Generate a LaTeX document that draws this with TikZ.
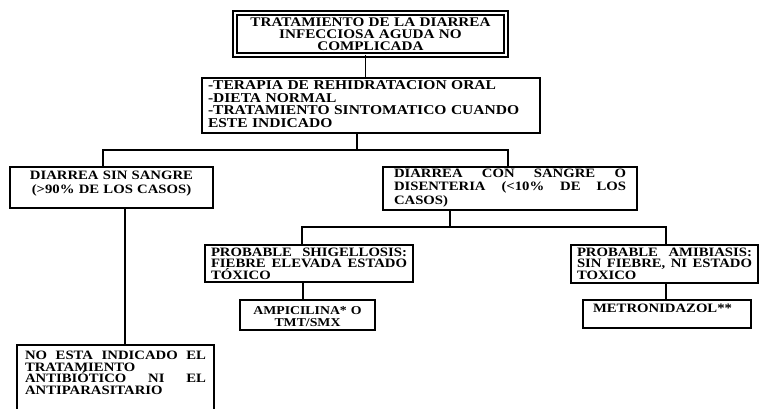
\documentclass[tikz,border=0pt]{standalone}
\usepackage{fontspec}
\setmainfont{Liberation Serif}[FakeStretch=1.15]
\newcommand\jl[2]{\leavevmode\hbox to #1{#2}}
\newcommand\fsz[2]{\fontsize{#1}{#2}\selectfont\bfseries}
\begin{document}
\begin{tikzpicture}[x=1pt,y=-1pt,line width=1.4pt,
  bx/.style={draw, rectangle, anchor=north, inner ysep=0pt, outer sep=0pt, line width=1.4pt},
  conn/.style={draw, line width=1.4pt}]
\clip (0,0) rectangle (761,409);
% boxes
\node[bx, double, double distance=2.9pt, line width=1.1pt, text width=259pt, inner xsep=6pt,
      text height=13.5pt, text depth=28.5pt, align=center, font=\fsz{13.2}{12}] (title) at (370.5,13)
  {TRATAMIENTO DE LA DIARREA\\INFECCIOSA AGUDA NO\\COMPLICADA};
\node[bx, text width=326pt, inner xsep=6pt, text height=11.5pt, text depth=43.5pt, align=left,
      font=\fsz{13.5}{12.7}] (box2) at (371,78)
  {-TERAPIA DE REHIDRATACION ORAL\\-DIETA NORMAL\\-TRATAMIENTO SINTOMATICO CUANDO\\ESTE INDICADO};
\node[bx, text width=191pt, inner xsep=6pt, text height=12.3pt, text depth=28.7pt, align=center,
      font=\fsz{12.8}{14}] (sin) at (111.5,167)
  {DIARREA SIN SANGRE\\(>90\% DE LOS CASOS)};
\node[bx, text width=232pt, inner xsep=11pt, text height=10.3pt, text depth=32.7pt, align=left,
      font=\fsz{12.8}{13.5}] (dis) at (510,167)
  {\jl{232pt}{DIARREA\hfill CON\hfill SANGRE\hfill O}\\\jl{232pt}{DISENTERIA\hfill (<10\%\hfill DE\hfill LOS}\\CASOS)};
\node[bx, text width=196pt, inner xsep=6pt, text height=11.3pt, text depth=25.7pt, align=left,
      font=\fsz{12.8}{11.5}] (shig) at (309,245)
  {\jl{196pt}{PROBABLE\hfill SHIGELLOSIS:}\\\jl{196pt}{FIEBRE\hfill ELEVADA\hfill ESTADO}\\TÓXICO};
\node[bx, text width=175pt, inner xsep=6pt, text height=11.3pt, text depth=26.7pt, align=left,
      font=\fsz{12.8}{11.5}] (amib) at (664.5,245)
  {\jl{175pt}{PROBABLE\hfill AMIBIASIS:}\\\jl{175pt}{SIN\hfill FIEBRE,\hfill NI\hfill ESTADO}\\TOXICO};
\node[bx, text width=129pt, inner xsep=3pt, text height=14.2pt, text depth=15.8pt, align=center,
      font=\fsz{12}{12}] (ampi) at (307.5,300)
  {AMPICILINA* O\\TMT/SMX};
\node[bx, text width=148pt, inner xsep=10pt, text height=12.3pt, text depth=15.7pt, align=left,
      font=\fsz{12.8}{12}] (metro) at (667,300)
  {METRONIDAZOL**};
\node[bx, text width=181pt, inner xsep=8pt, text height=14.3pt, text depth=70pt, align=left,
      font=\fsz{12.8}{11.7}] (noesta) at (115.5,345)
  {\jl{181pt}{NO\hfill ESTA\hfill INDICADO\hfill EL}\\TRATAMIENTO\\\jl{181pt}{ANTIBIÓTICO\hfill NI\hfill EL}\\ANTIPARASITARIO};
% junction levels
\coordinate (h1) at (0,150);
\coordinate (h2) at (0,227);
% connectors
\draw[conn] ([xshift=-5pt]title.south) -- ([xshift=-5pt]title.south |- box2.north);
\draw[conn] ([xshift=-14pt]box2.south) -- ([xshift=-14pt]box2.south |- h1);
\draw[conn] ([xshift=-8.5pt]sin.north) |- ([xshift=-2pt]dis.north |- h1) -- ([xshift=-2pt]dis.north);
\draw[conn] ([xshift=13.5pt]sin.south) -- ([xshift=13.5pt]sin.south |- noesta.north);
\draw[conn] ([xshift=-60pt]dis.south) -- ([xshift=-60pt]dis.south |- h2);
\draw[conn] ([xshift=-7pt]shig.north) |- ([xshift=1.5pt]amib.north |- h2) -- ([xshift=1.5pt]amib.north);
\draw[conn] ([xshift=-6pt]shig.south) -- ([xshift=-6pt]shig.south |- ampi.north);
\draw[conn] ([xshift=1.5pt]amib.south) -- ([xshift=1.5pt]amib.south |- metro.north);
\end{tikzpicture}
\end{document}
